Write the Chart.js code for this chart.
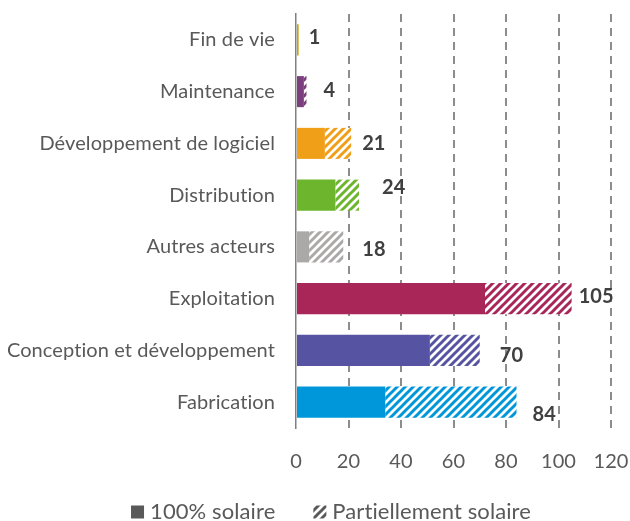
<!DOCTYPE html>
<html>
<head>
<meta charset="utf-8">
<script src="https://cdn.jsdelivr.net/npm/chart.js@4/dist/chart.umd.min.js"></script>
<style>
  html, body { margin: 0; padding: 0; background: #ffffff; }
  #wrap { width: 630px; height: 521px; position: relative; }
</style>
</head>
<body>
<div id="wrap"><canvas id="c" width="630" height="521"></canvas></div>
<script>
// ---- data ----
const categories = ["Fin de vie", "Maintenance", "Développement de logiciel", "Distribution",
  "Autres acteurs", "Exploitation", "Conception et développement", "Fabrication"];
const fullySolar = [1, 3, 11, 15, 5, 72, 51, 34];
const partlySolar = [0, 1, 10, 9, 13, 33, 19, 50];
const totals = [1, 4, 21, 24, 18, 105, 70, 84];
const seriesNames = ["100% solaire", "Partiellement solaire"];
const xTicks = [0, 20, 40, 60, 80, 100, 120];

// ---- styles ----
const barColors = ["#C8A400", "#7B3F7E", "#F0A018", "#6DB52D", "#ABA8A8", "#A82658", "#5654A2", "#0097DA"];
const labelDx = [10, 17, 11, 23, 19, 7, 20, 16];
const labelDy = [-2, -1, 0, -8, 3, -2, 5, 12];

function makeHatch(color) {
  const s = 8;
  const c = document.createElement('canvas');
  c.width = s; c.height = s;
  const g = c.getContext('2d');
  g.fillStyle = '#ffffff';
  g.fillRect(0, 0, s, s);
  g.strokeStyle = color;
  g.lineWidth = 3;
  g.lineCap = 'square';
  for (let k = -1; k <= 1; k++) {
    g.beginPath();
    g.moveTo(k * s - 1, s + 1);
    g.lineTo(k * s + s + 1, -1);
    g.stroke();
  }
  return document.getElementById('c').getContext('2d').createPattern(c, 'repeat');
}
const hatches = barColors.map(makeHatch);
const legendHatch = makeHatch('#595959');

const noLigatures = {
  id: 'noLigatures',
  beforeInit(chart) { chart.ctx.letterSpacing = '0.1px'; },
  beforeDraw(chart) { chart.ctx.letterSpacing = '0.1px'; }
};

const valueLabels = {
  id: 'valueLabels',
  afterDatasetsDraw(chart) {
    const meta = chart.getDatasetMeta(1);
    const ctx = chart.ctx;
    ctx.save();
    ctx.font = 'bold 20px Lato';
    ctx.fillStyle = '#404040';
    ctx.textAlign = 'left';
    ctx.textBaseline = 'middle';
    meta.data.forEach((el, i) => {
      ctx.fillText(String(totals[i]), el.x + labelDx[i], el.y + labelDy[i]);
    });
    ctx.restore();
  }
};

const customLegend = {
  id: 'customLegend',
  afterDraw(chart) {
    const ctx = chart.ctx;
    ctx.save();
    ctx.font = '22px Lato';
    ctx.textBaseline = 'middle';
    ctx.textAlign = 'left';
    const box = 13, gap = 6, itemGap = 38;
    const w1 = ctx.measureText(seriesNames[0]).width;
    const w2 = ctx.measureText(seriesNames[1]).width;
    const total = box + gap + w1 + itemGap + box + gap + w2;
    let x = (630 - total) / 2 + 16;
    const y = 512;
    ctx.fillStyle = '#595959';
    ctx.fillRect(x, y - 6.5, box, box);
    x += box + gap;
    ctx.fillText(seriesNames[0], x, y);
    x += w1 + itemGap;
    ctx.fillStyle = legendHatch;
    ctx.fillRect(x, y - 6.5, box, box);
    x += box + gap;
    ctx.fillStyle = '#595959';
    ctx.fillText(seriesNames[1], x, y);
    ctx.restore();
  }
};

new Chart(document.getElementById('c'), {
  type: 'bar',
  data: {
    labels: categories,
    datasets: [
      { label: seriesNames[0], data: fullySolar, backgroundColor: barColors, borderWidth: 0 },
      { label: seriesNames[1], data: partlySolar, backgroundColor: hatches, borderWidth: 0 }
    ]
  },
  options: {
    indexAxis: 'y',
    responsive: false,
    animation: false,
    layout: { padding: { top: 14, right: 19, left: 0, bottom: 43 } },
    datasets: { bar: { categoryPercentage: 1, barPercentage: 0.6 } },
    scales: {
      x: {
        stacked: true,
        min: 0, max: 120,
        afterBuildTicks(scale) { scale.ticks = xTicks.map(v => ({ value: v })); },
        ticks: { color: '#595959', font: { family: 'Lato', size: 20 }, padding: 22 },
        grid: {
          drawTicks: false,
          lineWidth: 2,
          color: (c) => (c.tick && c.tick.value === 0) ? 'rgba(0,0,0,0)' : '#8c8c8c'
        },
        border: { display: false, dash: [8, 6] },
        afterFit(scale) { scale.height = 50; scale.paddingLeft = 0; scale.paddingRight = 0; }
      },
      y: {
        stacked: true,
        ticks: { color: '#595959', font: { family: 'Lato', size: 20 }, padding: 21 },
        grid: { display: false, drawTicks: false },
        border: { display: true, color: '#7f7f7f', width: 1.5 },
        afterFit(scale) { scale.width = 296; scale.paddingTop = 0; scale.paddingBottom = 0; }
      }
    },
    plugins: {
      tooltip: { enabled: false },
      legend: { display: false }
    }
  },
  plugins: [noLigatures, valueLabels, customLegend]
});
</script>
</body>
</html>
